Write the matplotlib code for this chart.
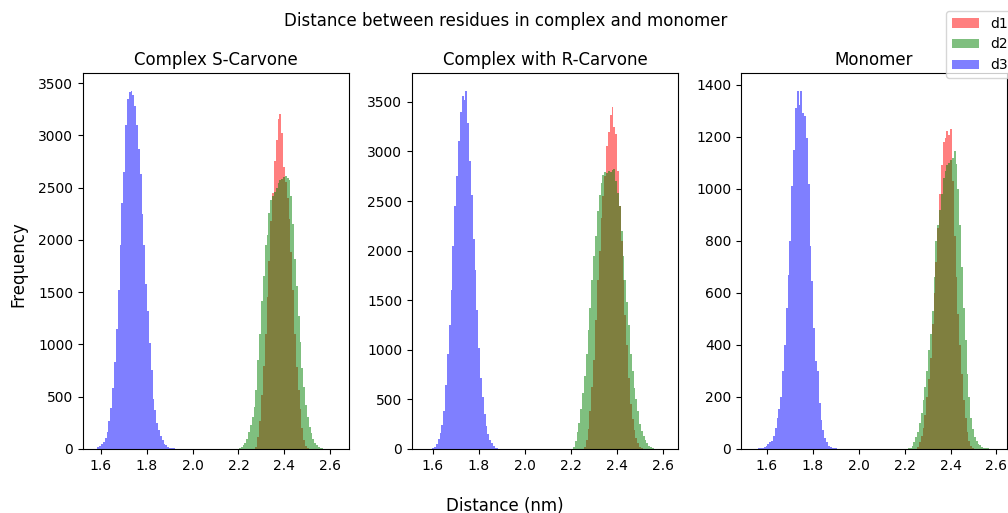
import numpy as np
import matplotlib
matplotlib.use("Agg")
import matplotlib.pyplot as plt

# histogram counts, bin width 0.008 nm
bin_w = 0.008

titles = ['Complex S-Carvone', 'Complex with R-Carvone', 'Monomer']
labels = ['d1', 'd2', 'd3']
colors = ['r', 'g', 'b']
xlims = [(1.523, 2.681), (1.510, 2.667), (1.487, 2.646)]

# --- Complex S-Carvone ---
s_d1_first = 2.278
s_d1 = [15, 110, 270, 520, 790, 1100, 1450, 1800, 2180, 2450, 2750, 2960, 3160, 3200, 3020,
        2700, 2550, 2400, 2200, 1880, 1520, 1100, 780, 560, 380, 200, 90, 30, 8]
s_d2_first = 2.206
s_d2 = [5, 15, 35, 60, 100, 160, 230, 310, 400, 560, 850, 1100, 1420, 1650, 1950, 2050, 2260,
        2380, 2420, 2460, 2500, 2540, 2570, 2580, 2600, 2610, 2590, 2570, 2420, 2150, 1820,
        1560, 1270, 1020, 770, 590, 420, 310, 210, 150, 100, 60, 38, 20, 10, 5]
s_d3_first = 1.590
s_d3 = [15, 25, 45, 70, 105, 160, 264, 390, 580, 830, 1150, 1520, 1950, 2350, 2650, 3100,
        3350, 3410, 3425, 3390, 3280, 3100, 2870, 2630, 2250, 1950, 1580, 1320, 1010, 760,
        480, 376, 250, 185, 121, 83, 51, 34, 20, 13, 8, 5, 3]

# --- Complex with R-Carvone ---
r_d1_first = 2.262
r_d1 = [20, 90, 200, 380, 620, 900, 1300, 1700, 2000, 2330, 2550, 2750, 3050, 3200, 3370,
        3450, 3250, 3180, 2800, 2450, 2100, 1700, 1350, 1050, 720, 450, 300, 190, 110, 60, 25, 10]
r_d2_first = 2.206
r_d2 = [5, 17, 80, 170, 260, 400, 560, 740, 960, 1200, 1420, 1700, 1950, 2150, 2400, 2560,
        2680, 2760, 2790, 2780, 2800, 2790, 2810, 2820, 2700, 2580, 2450, 2200, 1950, 1700,
        1480, 1250, 960, 790, 610, 500, 380, 250, 180, 130, 90, 60, 35, 20, 10, 5]
r_d3_first = 1.602
r_d3 = [8, 22, 55, 105, 165, 240, 380, 650, 960, 1250, 1600, 2050, 2450, 2750, 3100, 3400,
        3560, 3520, 3610, 3290, 2900, 2560, 2120, 1800, 1400, 1020, 720, 520, 350, 230, 150,
        95, 58, 30, 15, 8, 4, 2]

# --- Monomer ---
m_d1_first = 2.258
m_d1 = [8, 25, 50, 80, 130, 200, 270, 350, 480, 600, 720, 850, 980, 1090, 1180, 1195, 1222,
        1205, 1231, 1030, 820, 660, 520, 400, 290, 190, 120, 65, 30, 12, 4]
m_d2_first = 2.218
m_d2 = [2, 4, 10, 25, 45, 65, 100, 140, 190, 240, 300, 380, 440, 530, 660, 800, 860, 920,
        980, 1040, 1070, 1090, 1100, 1110, 1120, 1145, 1095, 1000, 860, 700, 540, 420, 290,
        200, 120, 75, 45, 30, 20, 14, 9, 5, 3, 2, 1]
m_d3_first = 1.550
m_d3 = [1, 1, 2, 3, 4, 6, 10, 18, 25, 32, 50, 80, 118, 155, 200, 300, 400, 540, 670, 800,
        1010, 1150, 1310, 1376, 1320, 1376, 1290, 1278, 1196, 1017, 780, 645, 465, 337, 299,
        177, 113, 74, 42, 25, 12, 8, 5, 3, 2, 1, 1]

panels = [
    [(s_d1_first, s_d1), (s_d2_first, s_d2), (s_d3_first, s_d3)],
    [(r_d1_first, r_d1), (r_d2_first, r_d2), (r_d3_first, r_d3)],
    [(m_d1_first, m_d1), (m_d2_first, m_d2), (m_d3_first, m_d3)],
]

fig, axes = plt.subplots(1, 3, figsize=(10.08, 5.13), dpi=100)
fig.subplots_adjust(left=83/1008, right=1007/1008, top=1-73/513, bottom=1-449/513, wspace=0.237)

for ax, title, series, xl in zip(axes, titles, panels, xlims):
    for (first, counts), lab, col in zip(series, labels, colors):
        counts = np.array(counts, dtype=float)
        centers = first + bin_w*np.arange(len(counts))
        edges = np.append(centers - bin_w/2, centers[-1] + bin_w/2)
        ax.hist(centers, bins=edges, weights=counts, color=col, alpha=0.5, label=lab)
    ax.set_title(title, fontsize=12)
    ax.set_xlim(xl)
    ax.set_xticks([1.6, 1.8, 2.0, 2.2, 2.4, 2.6])
    ax.tick_params(labelsize=10)

fig.suptitle('Distance between residues in complex and monomer', fontsize=12, x=506/1008, y=1-21/513, va='center')
fig.text(505/1008, 0.003, 'Distance (nm)', fontsize=12, ha='center', va='baseline')
fig.text(18/1008, 1-264/513, 'Frequency', fontsize=12, ha='center', va='center', rotation=90)

h, l = axes[0].get_legend_handles_labels()
fig.legend(h, l, loc='upper left', bbox_to_anchor=(946/1008, 1-11/513), borderaxespad=0, fontsize=10)

plt.savefig('out.png', dpi=100)
